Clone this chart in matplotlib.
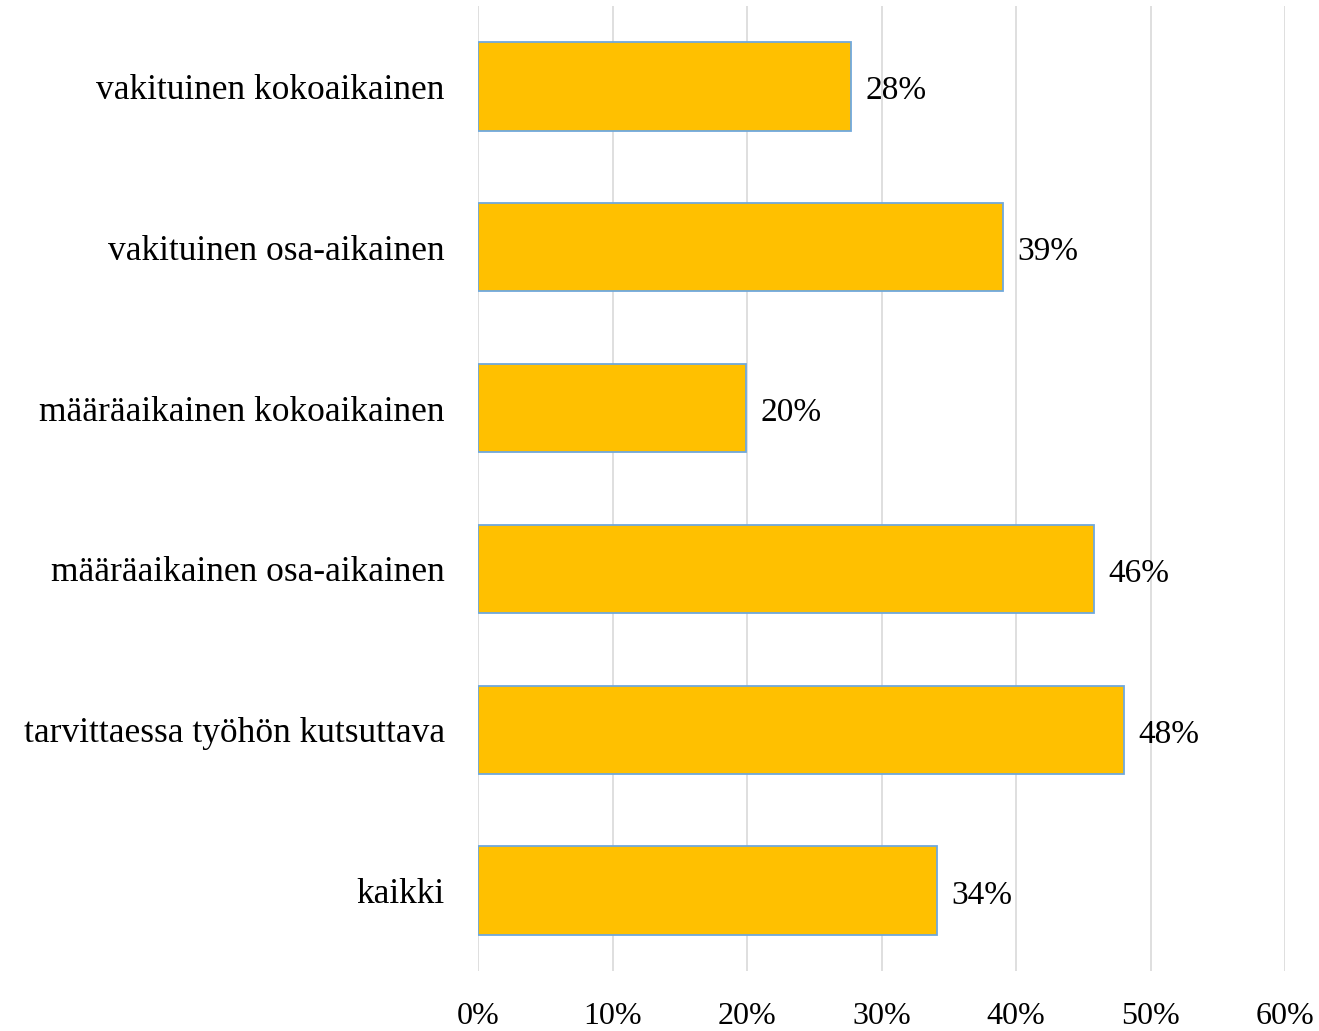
import matplotlib
matplotlib.use("Agg")
import matplotlib.pyplot as plt
from matplotlib.ticker import FuncFormatter

# Datos
categorias = [
    "vakituinen kokoaikainen",
    "vakituinen osa-aikainen",
    "määräaikainen kokoaikainen",
    "määräaikainen osa-aikainen",
    "tarvittaessa työhön kutsuttava",
    "kaikki",
]
valores = [27.7, 39.0, 19.9, 45.8, 48.0, 34.1]
ticks_x = [0, 10, 20, 30, 40, 50, 60]

plt.rcParams["font.family"] = ["Liberation Serif", "DejaVu Serif"]

fig = plt.figure(figsize=(13.19, 10.31), dpi=100)
ax = fig.add_axes([478 / 1319, 1 - 971 / 1031, (1285 - 478) / 1319, (971 - 6) / 1031])

pos = list(range(len(categorias)))
barras = ax.barh(pos, valores, height=0.55, color="#FFC000",
                 edgecolor="#6FA8DC", linewidth=1.3, zorder=3)

for b, v in zip(barras, valores):
    ax.text(b.get_width() + 1.1, b.get_y() + b.get_height() / 2 + 0.03,
            f"{round(v):.0f}%", va="center", ha="left", fontsize=24, color="#000000")

ax.set_xlim(0, 60)
ax.set_ylim(len(categorias) - 0.5, -0.5)
ax.set_xticks(ticks_x)
ax.xaxis.set_major_formatter(FuncFormatter(lambda x, p: f"{x:.0f}%"))
ax.set_yticks(pos)
ax.set_yticklabels(categorias, fontsize=25.5)

ax.grid(axis="x", color="#D9D9D9", linewidth=1.2, zorder=0)
for s in ax.spines.values():
    s.set_visible(False)
ax.tick_params(axis="both", length=0)
ax.tick_params(axis="y", pad=24)
ax.tick_params(axis="x", pad=22, labelsize=23)

fig.savefig("out.png", dpi=100)
plt.close(fig)
